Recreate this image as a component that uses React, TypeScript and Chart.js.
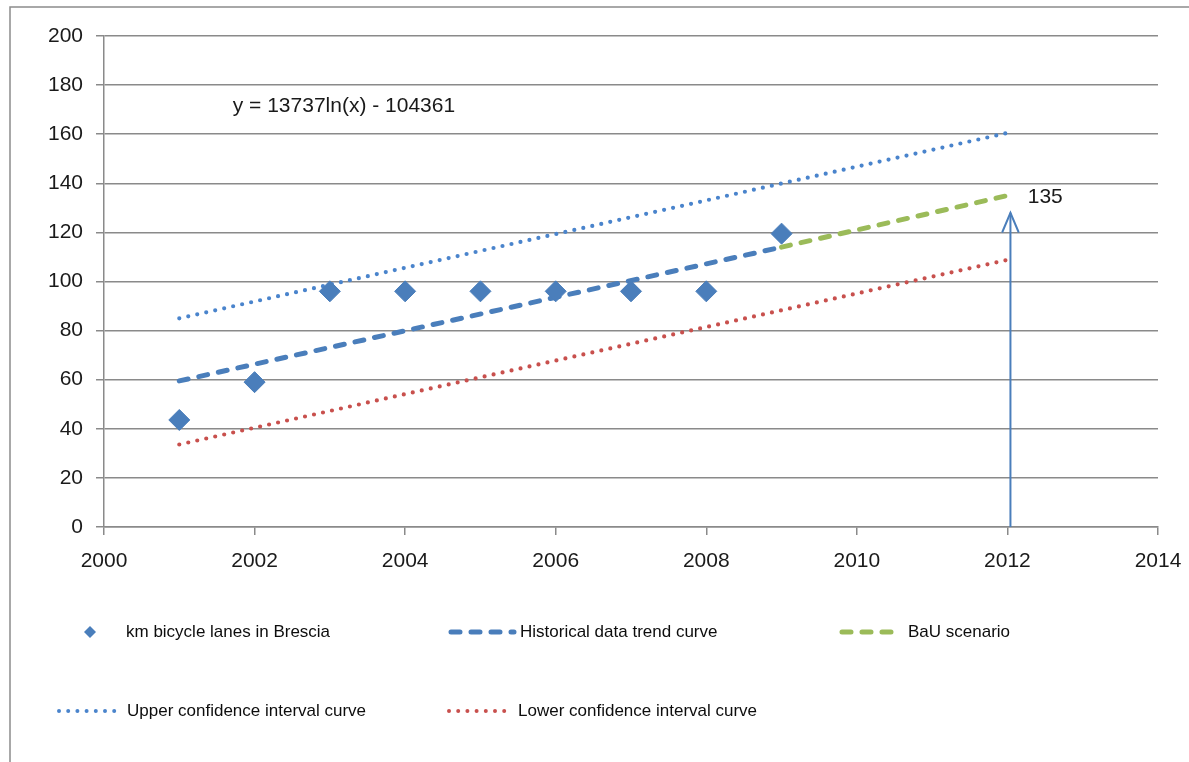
import React, { useEffect, useRef } from "react";
import { Chart, registerables } from "chart.js";

Chart.register(...registerables);

// ---- data ----
const years = [2001, 2002, 2003, 2004, 2005, 2006, 2007, 2008, 2009];
const kmLanes = [43.6, 59, 96, 96, 96, 96, 96, 96, 119.5];

const trendYears = [2001, 2009];
const trendValues = [59.5, 114];

const bauYears = [2009, 2012];
const bauValues = [114, 135];

const upperYears = [2001, 2012];
const upperValues = [85, 160.5];

const lowerYears = [2001, 2012];
const lowerValues = [33.6, 108.8];

const arrowYears = [2012.04, 2012.04];
const arrowValues = [0, 128];

const xTicks = [2000, 2002, 2004, 2006, 2008, 2010, 2012, 2014];
const yTicks = [0, 20, 40, 60, 80, 100, 120, 140, 160, 180, 200];

const equationText = "y = 13737ln(x) - 104361";
const equationPos = { x: 2001.71, y: 171.5 };
const targetLabel = "135";
const targetPos = { x: 2012.27, y: 134.5 };

const seriesLabels = [
  "km bicycle lanes in Brescia",
  "Historical data trend curve",
  "BaU scenario",
  "Upper confidence interval curve",
  "Lower confidence interval curve",
];

const BLUE = "#4a7ebb";
const DOTBLUE = "#4a84cc";
const GREEN = "#9bbb59";
const RED = "#c8504d";
const GRID = "#8a8a8a";

const pts = (xs: number[], ys: number[]) => xs.map((x, i) => ({ x, y: ys[i] }));

const FONT = "'Liberation Sans', Arial, sans-serif";

const decorPlugin = {
  id: "decor",
  beforeDraw(chart: any) {
    const ctx = chart.ctx;
    ctx.save();
    ctx.fillStyle = "#ffffff";
    ctx.fillRect(0, 0, chart.width, chart.height);
    ctx.strokeStyle = "#8c8c8c";
    ctx.lineWidth = 1.5;
    ctx.strokeRect(10, 7, chart.width + 50, chart.height + 50);
    ctx.restore();
  },
  afterDraw(chart: any) {
    const ctx = chart.ctx;
    const xs = chart.scales.x;
    const ys = chart.scales.y;
    ctx.save();
    // arrow head
    const ax = xs.getPixelForValue(arrowYears[1]);
    const ay = ys.getPixelForValue(arrowValues[1]);
    ctx.strokeStyle = BLUE;
    ctx.lineWidth = 2;
    ctx.lineCap = "round";
    ctx.beginPath();
    ctx.moveTo(ax - 8, ay + 19);
    ctx.lineTo(ax, ay);
    ctx.lineTo(ax + 8, ay + 19);
    ctx.stroke();

    // texts
    ctx.fillStyle = "#1a1a1a";
    ctx.font = `21px ${FONT}`;
    ctx.textBaseline = "middle";
    ctx.textAlign = "left";
    ctx.fillText(equationText, xs.getPixelForValue(equationPos.x), ys.getPixelForValue(equationPos.y));
    ctx.fillText(targetLabel, xs.getPixelForValue(targetPos.x), ys.getPixelForValue(targetPos.y));

    // legend
    const row1 = 632;
    const row2 = 711;
    ctx.font = `17px ${FONT}`;
    // diamond marker
    ctx.fillStyle = BLUE;
    ctx.beginPath();
    ctx.moveTo(90, row1 - 6);
    ctx.lineTo(96, row1);
    ctx.lineTo(90, row1 + 6);
    ctx.lineTo(84, row1);
    ctx.closePath();
    ctx.fill();
    ctx.fillStyle = "#0d0d0d";
    ctx.fillText(seriesLabels[0], 126, row1);

    const seg = (x1: number, x2: number, y: number, color: string, dash: number[], w: number) => {
      ctx.save();
      ctx.strokeStyle = color;
      ctx.lineWidth = w;
      ctx.lineCap = "round";
      ctx.setLineDash(dash);
      ctx.beginPath();
      ctx.moveTo(x1, y);
      ctx.lineTo(x2, y);
      ctx.stroke();
      ctx.restore();
    };
    seg(451, 514, row1, BLUE, [9, 11], 5);
    ctx.fillText(seriesLabels[1], 520, row1);
    seg(842, 900, row1, GREEN, [9, 11], 5);
    ctx.fillText(seriesLabels[2], 908, row1);
    seg(59, 116, row2, DOTBLUE, [0, 9.2], 4);
    ctx.fillText(seriesLabels[3], 127, row2);
    seg(449, 506, row2, RED, [0, 9.2], 4);
    ctx.fillText(seriesLabels[4], 518, row2);
    ctx.restore();
  },
};

export default function App() {
  const ref = useRef<HTMLCanvasElement | null>(null);
  useEffect(() => {
    if (!ref.current) return;
    const chart = new Chart(ref.current, {
      type: "line",
      data: {
        datasets: [
          {
            type: "scatter",
            label: seriesLabels[0],
            data: pts(years, kmLanes),
            pointStyle: "rectRot",
            pointRadius: 10.5,
            backgroundColor: BLUE,
            borderColor: BLUE,
            borderWidth: 1,
            showLine: false,
          } as any,
          {
            label: seriesLabels[1],
            data: pts(trendYears, trendValues),
            borderColor: BLUE,
            borderWidth: 5,
            borderDash: [9, 11],
            borderCapStyle: "round",
            pointRadius: 0,
            fill: false,
          },
          {
            label: seriesLabels[2],
            data: pts(bauYears, bauValues),
            borderColor: GREEN,
            borderWidth: 5,
            borderDash: [9, 11],
            borderCapStyle: "round",
            pointRadius: 0,
            fill: false,
          },
          {
            label: seriesLabels[3],
            data: pts(upperYears, upperValues),
            borderColor: DOTBLUE,
            borderWidth: 4.2,
            borderDash: [0, 9.2],
            borderCapStyle: "round",
            pointRadius: 0,
            fill: false,
          },
          {
            label: seriesLabels[4],
            data: pts(lowerYears, lowerValues),
            borderColor: RED,
            borderWidth: 4.2,
            borderDash: [0, 9.2],
            borderCapStyle: "round",
            pointRadius: 0,
            fill: false,
          },
          {
            label: "arrow",
            data: pts(arrowYears, arrowValues),
            borderColor: BLUE,
            borderWidth: 2,
            pointRadius: 0,
            fill: false,
          },
        ],
      },
      options: {
        responsive: false,
        animation: false,
        devicePixelRatio: 1,
        layout: { padding: { left: 10, top: 36, right: 31, bottom: 0 } },
        plugins: {
          legend: { display: false },
          tooltip: { enabled: false },
        },
        scales: {
          x: {
            type: "linear",
            min: 2000,
            max: 2014,
            afterFit: (s: any) => {
              s.height = 235;
              s.paddingLeft = 0;
              s.paddingRight = 0;
            },
            afterBuildTicks: (s: any) => {
              s.ticks = xTicks.map((v) => ({ value: v }));
            },
            ticks: {
              color: "#1a1a1a",
              font: { family: FONT, size: 21 },
              padding: 14,
              maxRotation: 0,
              callback: (v: any) => String(v),
            },
            grid: {
              drawOnChartArea: false,
              drawTicks: true,
              tickLength: 8,
              color: GRID,
              lineWidth: 1.5,
            },
            border: { color: GRID, width: 1.5 },
          },
          y: {
            type: "linear",
            min: 0,
            max: 200,
            afterFit: (s: any) => {
              s.width = 94;
              s.paddingTop = 0;
              s.paddingBottom = 0;
            },
            afterBuildTicks: (s: any) => {
              s.ticks = yTicks.map((v) => ({ value: v }));
            },
            ticks: {
              color: "#1a1a1a",
              font: { family: FONT, size: 21 },
              padding: 13,
              callback: (v: any) => String(v),
            },
            grid: {
              drawTicks: true,
              tickLength: 8,
              color: GRID,
              lineWidth: 1.5,
            },
            border: { color: GRID, width: 1.5 },
          },
        },
      },
      plugins: [decorPlugin],
    });
    return () => chart.destroy();
  }, []);
  return (
    <div style={{ position: "absolute", left: 0, top: 0, width: 1189, height: 762 }}>
      <canvas ref={ref} width={1189} height={762} style={{ display: "block" }} />
    </div>
  );
}
